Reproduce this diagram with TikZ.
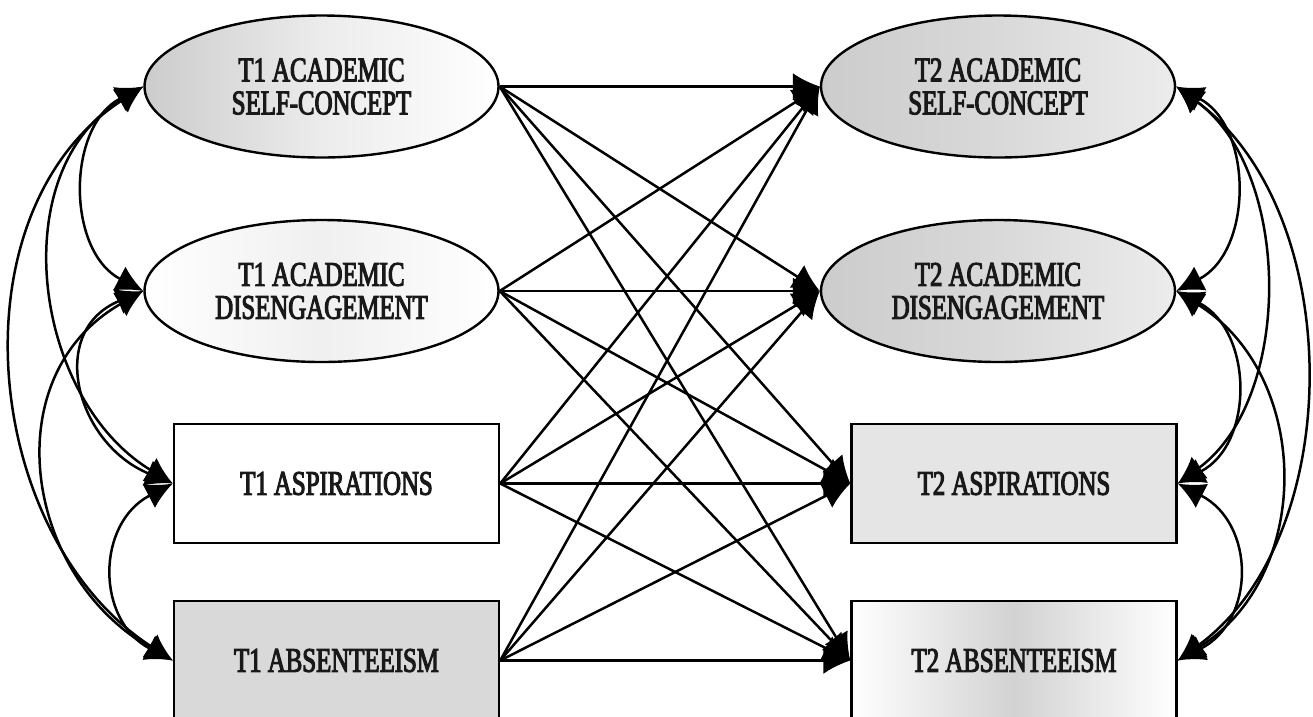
\documentclass[tikz,border=0pt]{standalone}
\usepackage{fontspec}
\setmainfont{Liberation Serif}[FakeStretch=0.72,FakeBold=3]
\usetikzlibrary{shapes.geometric,arrows.meta}
\begin{document}
\begin{tikzpicture}[x=1pt,y=-1pt,
  lbl/.style={font=\fontsize{34.5}{33}\selectfont, align=center, text=black!90},
  ell/.style={ellipse, draw, line width=2.4pt, minimum width=354pt, minimum height=142pt, inner sep=0pt, lbl},
  box/.style={rectangle, draw, line width=2.4pt, minimum width=325pt, minimum height=119pt, inner sep=0pt, lbl},
  arr/.style={line width=2.5pt, -{Latex[length=27pt,width=27pt]}},
  corr/.style={line width=2.5pt, {Latex[length=27pt,width=27pt]}-{Latex[length=27pt,width=27pt]}}]
\clip (0,0) rectangle (1313,716);
\fill[white] (0,0) rectangle (1313,716);
% T1 nodes
\node[ell, left color=gray!40, right color=white, middle color=gray!15] (a1) at (321.5,86.5) {T1 ACADEMIC\\SELF-CONCEPT};
\node[ell, left color=white, right color=white, middle color=gray!12] (d1) at (321.5,291) {T1 ACADEMIC\\DISENGAGEMENT};
\node[box, fill=white] (p1) at (336.5,483.5) {T1 ASPIRATIONS};
\node[box, fill=gray!30] (b1) at (336.5,660.5) {T1 ABSENTEEISM};
% T2 nodes
\node[ell, left color=gray!40, right color=gray!15, middle color=gray!30] (a2) at (998,86.5) {T2 ACADEMIC\\SELF-CONCEPT};
\node[ell, left color=gray!40, right color=gray!15, middle color=gray!30] (d2) at (998,291) {T2 ACADEMIC\\DISENGAGEMENT};
\node[box, fill=gray!20] (p2) at (1014,483.5) {T2 ASPIRATIONS};
\node[box, left color=white, right color=white, middle color=gray!35] (b2) at (1014,660.5) {T2 ABSENTEEISM};
% cross-lagged paths
\foreach \s in {a1,d1,p1,b1}{
  \foreach \t in {a2,d2,p2,b2}{
    \draw[arr] (\s.east) -- (\t.west);
  }
}
% left correlations
\draw[corr] (a1.west) .. controls +(-77,40) and +(-77,-40) .. (d1.west);
\draw[corr] (a1.west) .. controls +(-140,85) and +(-140,-85) .. (p1.west);
\draw[corr] (a1.west) .. controls +(-192,125) and +(-192,-125) .. (b1.west);
\draw[corr] (d1.west) .. controls +(-97,40) and +(-97,-40) .. (p1.west);
\draw[corr] (d1.west) .. controls +(-149,85) and +(-149,-85) .. (b1.west);
\draw[corr] (p1.west) .. controls +(-77,40) and +(-77,-40) .. (b1.west);
% right correlations
\draw[corr] (a2.east) .. controls +(77,40) and +(77,-40) .. (d2.east);
\draw[corr] (a2.east) .. controls +(116,85) and +(116,-85) .. (p2.east);
\draw[corr] (a2.east) .. controls +(170,125) and +(170,-125) .. (b2.east);
\draw[corr] (d2.east) .. controls +(77,40) and +(77,-40) .. (p2.east);
\draw[corr] (d2.east) .. controls +(136,85) and +(136,-85) .. (b2.east);
\draw[corr] (p2.east) .. controls +(78,40) and +(78,-40) .. (b2.east);
\end{tikzpicture}
\end{document}
